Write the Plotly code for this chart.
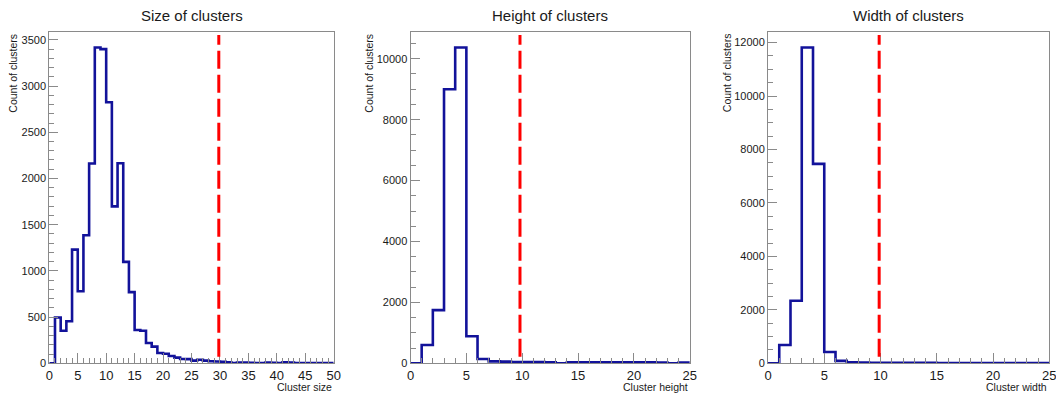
import plotly.graph_objects as go

# ---------------- data ----------------
size_counts = [0, 495, 352, 455, 1230, 780, 1385, 2162, 3417, 3399,
               2824, 1698, 2165, 1097, 770, 360, 352, 220, 180, 111,
               104, 79, 61, 47, 45, 29, 38, 29, 22, 20,
               16, 10, 3, 9, 8, 5, 3, 3, 8, 6,
               3, 10, 7, 4, 4, 3, 3, 3, 2, 3]
height_counts = [0, 600, 1745, 9000, 10370, 890, 140, 62, 55, 45,
                 40, 38, 35, 4, 34, 32, 30, 30, 30, 30,
                 30, 30, 28, 4, 28]
width_counts = [0, 684, 2338, 11816, 7463, 423, 90, 35, 25, 22,
                20, 18, 17, 15, 15, 14, 13, 12, 12, 11,
                10, 10, 9, 9, 8]

titles = ["Size of clusters", "Height of clusters", "Width of clusters"]
x_titles = ["Cluster size", "Cluster height", "Cluster width"]
y_title = "Count of clusters"
thresholds = [29.8, 9.8, 9.88]
y_dticks = [500, 2000, 2000]
y_minor = [100, 500, 500]
x_dtick = 5
x_minor = 1

# ---------------- styling / layout ----------------
W, H = 1056, 395
dom_x = [(49.3 / W, 333.7 / W), (410.5 / W, 689.8 / W), (768.0 / W, 1049.3 / W)]
dom_y = ((H - 363.3) / H, (H - 31.7) / H)
ytitle_x = [13.5 / W, 369.5 / W, 727.0 / W]

FONT = "Liberation Sans, Arial, Helvetica, sans-serif"
BLUE = "#12129a"
FRAME = "#8a8a8a"
TXT = "#1a1a1a"

fig = go.Figure()
layout = dict(width=W, height=H, margin=dict(l=0, r=0, t=0, b=0, autoexpand=False),
              paper_bgcolor="white", plot_bgcolor="white", showlegend=False,
              font=dict(family=FONT, color=TXT))
annotations = []
shapes = []

for i, counts in enumerate([size_counts, height_counts, width_counts]):
    n = len(counts)
    edges = list(range(n + 1))
    xs = edges
    ys = counts + [counts[-1]]
    xa = "x" if i == 0 else f"x{i+1}"
    ya = "y" if i == 0 else f"y{i+1}"
    fig.add_trace(go.Scatter(x=xs, y=ys, mode="lines", line_shape="hv",
                             line=dict(color=BLUE, width=2.6),
                             xaxis=xa, yaxis=ya, hoverinfo="skip"))
    ymax = 1.05 * max(counts)
    axkey = "xaxis" if i == 0 else f"xaxis{i+1}"
    aykey = "yaxis" if i == 0 else f"yaxis{i+1}"
    layout[axkey] = dict(domain=list(dom_x[i]), anchor=ya, range=[0, n],
                         automargin=False, ticklabeloverflow="allow",
                         showgrid=False, zeroline=False, showline=True,
                         linecolor=FRAME, linewidth=1, mirror=True,
                         ticks="inside", ticklen=10, tickcolor=FRAME, tickwidth=1,
                         dtick=x_dtick, tick0=0, tickformat="d",
                         ticklabelstandoff=0,
                         tickfont=dict(size=13, color=TXT, family=FONT),
                         minor=dict(dtick=x_minor, tick0=0, ticks="inside",
                                    ticklen=5, tickcolor=FRAME, tickwidth=1,
                                    showgrid=False))
    layout[aykey] = dict(domain=list(dom_y), anchor=xa, range=[0, ymax],
                         automargin=False,
                         showgrid=False, zeroline=False, showline=True,
                         linecolor=FRAME, linewidth=1, mirror=True,
                         ticks="inside", ticklen=9, tickcolor=FRAME, tickwidth=1,
                         dtick=y_dticks[i], tick0=0, tickformat="d",
                         tickfont=dict(size=11, color=TXT, family=FONT),
                         minor=dict(dtick=y_minor[i], tick0=0, ticks="inside",
                                    ticklen=5, tickcolor=FRAME, tickwidth=1,
                                    showgrid=False))
    # threshold line
    shapes.append(dict(type="line", xref=xa, yref=f"{ya} domain",
                       x0=thresholds[i], x1=thresholds[i], y0=0.02, y1=0.99,
                       line=dict(color="#ff0000", width=3, dash="18px,6px")))
    cx = (dom_x[i][0] + dom_x[i][1]) / 2
    annotations.append(dict(text=titles[i], xref="paper", yref="paper",
                            x=cx, y=(H - 16) / H, xanchor="center", yanchor="middle",
                            showarrow=False, font=dict(size=15, color=TXT, family=FONT)))
    annotations.append(dict(text=x_titles[i], xref="paper", yref="paper",
                            x=dom_x[i][1], y=(H - 387) / H, xanchor="right", yanchor="middle",
                            showarrow=False, font=dict(size=10.5, color=TXT, family=FONT)))
    annotations.append(dict(text=y_title, xref="paper", yref="paper", textangle=-90,
                            x=ytitle_x[i], y=dom_y[1], xanchor="center", yanchor="top",
                            showarrow=False, font=dict(size=10.5, color=TXT, family=FONT)))

layout["annotations"] = annotations
layout["shapes"] = shapes
fig.update_layout(**layout)
fig.write_html("out.html", config={"displayModeBar": False},
               post_script="document.body.style.margin='0';document.body.style.overflow='hidden';")
